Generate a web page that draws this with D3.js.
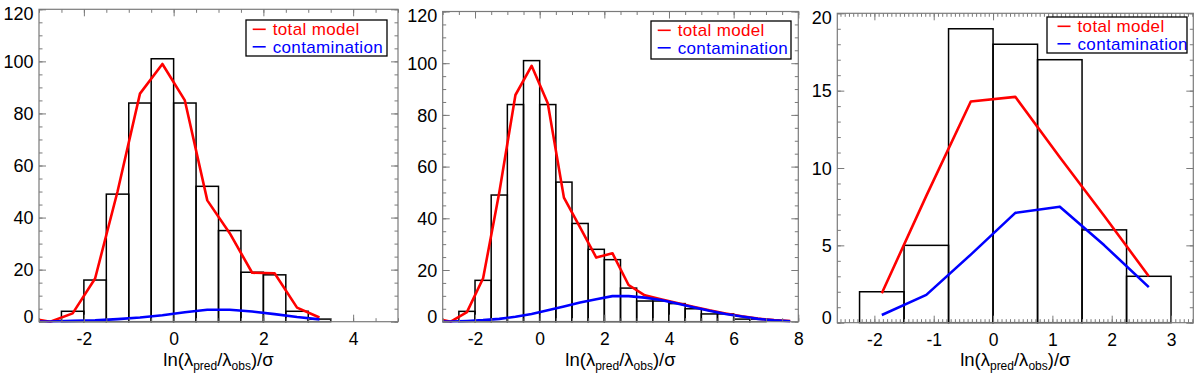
<!DOCTYPE html>
<html>
<head>
<meta charset="utf-8">
<script src="https://cdn.jsdelivr.net/npm/d3@7"></script>
<style>
  body { margin: 0; background: #fff; }
  svg { display: block; }
  text { font-family: "Liberation Sans", Arial, Helvetica, sans-serif; fill: #000; }
</style>
</head>
<body>
<svg id="chart" width="1200" height="379"></svg>
<script>
// ---- panel 1 ----
const binEdges1 = [-3, -2.5, -2, -1.5, -1, -0.5, 0, 0.5, 1, 1.5, 2, 2.5, 3, 3.5, 4];
const counts1 = [0, 4, 16, 49, 84, 101, 84, 52, 35, 19, 18, 4, 1, 0];
const modelX1 = [-3.25, -2.75, -2.25, -1.75, -1.25, -0.75, -0.25, 0.25, 0.75, 1.25, 1.75, 2.25, 2.75, 3.25];
const total1 = [1.4, 0, 3.2, 16.6, 50, 87.6, 99, 85, 46.6, 34, 18.8, 18.6, 5.4, 1.6];
const contam1 = [0, 0.1, 0.3, 0.5, 1.0, 1.6, 2.5, 3.6, 4.6, 4.6, 3.9, 2.9, 1.8, 0.9];
const xTicks1 = [-2, 0, 2, 4];
const yTicks1 = [0, 20, 40, 60, 80, 100, 120];

// ---- panel 2 ----
const binEdges2 = [-3, -2.5, -2, -1.5, -1, -0.5, 0, 0.5, 1, 1.5, 2, 2.5, 3, 3.5, 4, 4.5, 5, 5.5, 6, 6.5, 7, 7.5, 8];
const counts2 = [0, 4, 16, 49, 84, 101, 84, 54, 38, 28, 24, 13, 8, 8, 7, 5, 3, 3, 1, 1, 0, 0];
const modelX2 = [-3.25, -2.75, -2.25, -1.75, -1.25, -0.75, -0.25, 0.25, 0.75, 1.25, 1.75, 2.25, 2.75, 3.25, 3.75, 4.25, 4.75, 5.25, 5.75, 6.25, 6.75, 7.25, 7.75];
const total2 = [1.4, 0, 3.7, 16.8, 50, 87.7, 99, 84.5, 48, 36.5, 24.8, 26.5, 14.2, 10.2, 8.7, 7.2, 5.8, 4.4, 3.2, 2.1, 1.2, 0.6, 0.3];
const contam2 = [0, 0.1, 0.3, 0.6, 1.1, 1.9, 3.0, 4.4, 5.9, 7.4, 8.7, 9.9, 9.9, 9.3, 8.4, 7.0, 5.6, 4.2, 3.0, 2.0, 1.1, 0.5, 0.2];
const xTicks2 = [-2, 0, 2, 4, 6, 8];
const yTicks2 = [0, 20, 40, 60, 80, 100, 120];

// ---- panel 3 ----
const binEdges3 = [-3, -2.25, -1.5, -0.75, 0, 0.75, 1.5, 2.25, 3, 3.75];
const counts3 = [0, 2, 5, 19, 18, 17, 6, 3, 0];
const modelX3 = [-1.875, -1.125, -0.375, 0.375, 1.125, 1.875, 2.625];
const total3 = [1.9, 8.2, 14.3, 14.6, 10.7, 6.9, 3.0];
const contam3 = [0.5, 1.8, 4.4, 7.1, 7.5, 5.0, 2.3];
const xTicks3 = [-2, -1, 0, 1, 2, 3];
const yTicks3 = [0, 5, 10, 15, 20];

const legendLabels = ['total model', 'contamination'];
const seriesColors = ['#ff0000', '#0000ff'];

const panels = [
  {id: 1, box: [39, 398, 9.3, 321.7], xdom: [-3, 5], ydom: [0, 120], xMinor: 0.5, yMinor: 5,
   edges: binEdges1, counts: counts1, mx: modelX1, total: total1, contam: contam1,
   xt: xTicks1, yt: yTicks1, leg: [246, 20, 141, 36, 26.7]},
  {id: 2, box: [442.7, 798.3, 11.5, 321.7], xdom: [-3, 8], ydom: [0, 120], xMinor: 0.5, yMinor: 5,
   edges: binEdges2, counts: counts2, mx: modelX2, total: total2, contam: contam2,
   xt: xTicks2, yt: yTicks2, leg: [651, 21, 140, 38, 26.7]},
  {id: 3, box: [837.3, 1193.3, 13.3, 322.7], xdom: [-2.625, 3.375], ydom: [0, 20], xMinor: 1 / 14, yMinor: 1,
   edges: binEdges3, counts: counts3, mx: modelX3, total: total3, contam: contam3,
   xt: xTicks3, yt: yTicks3, leg: [1047, 17, 140, 36, 30.5]}
];

const svg = d3.select('#chart');
const frameColor = '#7a7a7a';

function minorValues(dom, step){
  let out = [];
  let start = Math.ceil(dom[0] / step - 1e-9);
  for(let i = start; i * step <= dom[1] + 1e-9; i++) out.push(i * step);
  return out;
}

function drawPanel(p){
  let [l, r, t, b] = p.box;
  let x = d3.scaleLinear().domain(p.xdom).range([l, r]);
  let y = d3.scaleLinear().domain(p.ydom).range([b, t]);
  let g = svg.append('g');

  svg.append('clipPath').attr('id', 'clip' + p.id)
    .append('rect').attr('x', l).attr('y', t - 1).attr('width', r - l).attr('height', b - t + 2);

  let plot = g.append('g').attr('clip-path', 'url(#clip' + p.id + ')');

  // histogram bars
  plot.selectAll('rect.bar')
    .data(p.counts)
    .enter().append('rect')
    .attr('class', 'bar')
    .attr('x', (d, i) => x(p.edges[i]))
    .attr('width', (d, i) => x(p.edges[i + 1]) - x(p.edges[i]))
    .attr('y', d => y(d))
    .attr('height', d => y(0) - y(d))
    .attr('fill', 'none')
    .attr('stroke', '#000')
    .attr('stroke-width', 1.5);

  let line = d3.line().x(d => x(d[0])).y(d => y(d[1]));
  [p.total, p.contam].forEach((vals, k) => {
    plot.append('path')
      .datum(p.mx.map((v, i) => [v, vals[i]]))
      .attr('fill', 'none')
      .attr('stroke', seriesColors[k])
      .attr('stroke-width', 2.6)
      .attr('stroke-linejoin', 'round')
      .attr('d', line);
  });

  // frame
  g.append('rect').attr('x', l).attr('y', t).attr('width', r - l).attr('height', b - t)
    .attr('fill', 'none').attr('stroke', frameColor).attr('stroke-width', 1.2);

  // ticks (inward, all four sides)
  let majorLen = 7, minorLen = 3.5;
  let xm = minorValues(p.xdom, p.xMinor), ym = minorValues(p.ydom, p.yMinor);
  let axes = [
    [d3.axisBottom(x).tickValues(xm).tickSize(-minorLen).tickFormat(''), 'translate(0,' + b + ')'],
    [d3.axisTop(x).tickValues(xm).tickSize(-minorLen).tickFormat(''), 'translate(0,' + t + ')'],
    [d3.axisTop(x).tickValues(p.xt).tickSize(-majorLen).tickFormat(''), 'translate(0,' + t + ')'],
    [d3.axisLeft(y).tickValues(ym).tickSize(-minorLen).tickFormat(''), 'translate(' + l + ',0)'],
    [d3.axisRight(y).tickValues(ym).tickSize(-minorLen).tickFormat(''), 'translate(' + r + ',0)'],
    [d3.axisRight(y).tickValues(p.yt).tickSize(-majorLen).tickFormat(''), 'translate(' + r + ',0)']
  ];
  axes.forEach(a => {
    let ag = g.append('g').attr('transform', a[1]).call(a[0]);
    ag.select('.domain').remove();
    ag.selectAll('line').attr('stroke', frameColor).attr('stroke-width', 1);
  });

  let xa = g.append('g').attr('transform', 'translate(0,' + b + ')')
    .call(d3.axisBottom(x).tickValues(p.xt).tickSize(-majorLen).tickFormat(d => d < 0 ? '-' + (-d) : '' + d));
  xa.select('.domain').remove();
  xa.selectAll('line').attr('stroke', frameColor).attr('stroke-width', 1);
  xa.selectAll('text').attr('y', 17).attr('dy', '0.35em')
    .style('font-size', '17.5px').style('font-family', '"Liberation Sans", Arial, sans-serif').attr('fill', '#000');

  let ya = g.append('g').attr('transform', 'translate(' + l + ',0)')
    .call(d3.axisLeft(y).tickValues(p.yt).tickSize(-majorLen));
  ya.select('.domain').remove();
  ya.selectAll('line').attr('stroke', frameColor).attr('stroke-width', 1);
  ya.selectAll('text')
    .attr('x', -5.5)
    .attr('dy', '0.35em')
    .attr('y', d => Math.max(t + 3.5, Math.min(b - 6, y(d))) - y(d))
    .style('font-size', '18px').style('font-family', '"Liberation Sans", Arial, sans-serif').attr('fill', '#000');

  // x title
  let title = g.append('text')
    .attr('x', (l + r) / 2).attr('y', 366)
    .attr('text-anchor', 'middle')
    .style('font-size', '18.5px');
  title.append('tspan').text('ln(λ');
  title.append('tspan').attr('dy', 4).style('font-size', '12px').text('pred');
  title.append('tspan').attr('dy', -4).text('/λ');
  title.append('tspan').attr('dy', 4).style('font-size', '12px').text('obs');
  title.append('tspan').attr('dy', -4).text(')/σ');

  // legend
  let [lx, ly, lw, lh, tx] = p.leg;
  let lg = g.append('g').attr('transform', 'translate(' + lx + ',' + ly + ')');
  lg.append('rect').attr('width', lw).attr('height', lh)
    .attr('fill', '#fff').attr('stroke', '#000').attr('stroke-width', 1.3);
  legendLabels.forEach((lab, k) => {
    let base = 15 + k * 17.5;
    lg.append('line').attr('x1', tx - 20).attr('x2', tx - 7)
      .attr('y1', base - 5.7).attr('y2', base - 5.7)
      .attr('stroke', seriesColors[k]).attr('stroke-width', 1.6);
    lg.append('text').attr('x', tx).attr('y', base)
      .style('font-size', '17px').style('letter-spacing', '0.35px')
      .attr('fill', seriesColors[k]).style('fill', seriesColors[k])
      .text(lab);
  });
}

panels.forEach(drawPanel);
</script>
</body>
</html>
